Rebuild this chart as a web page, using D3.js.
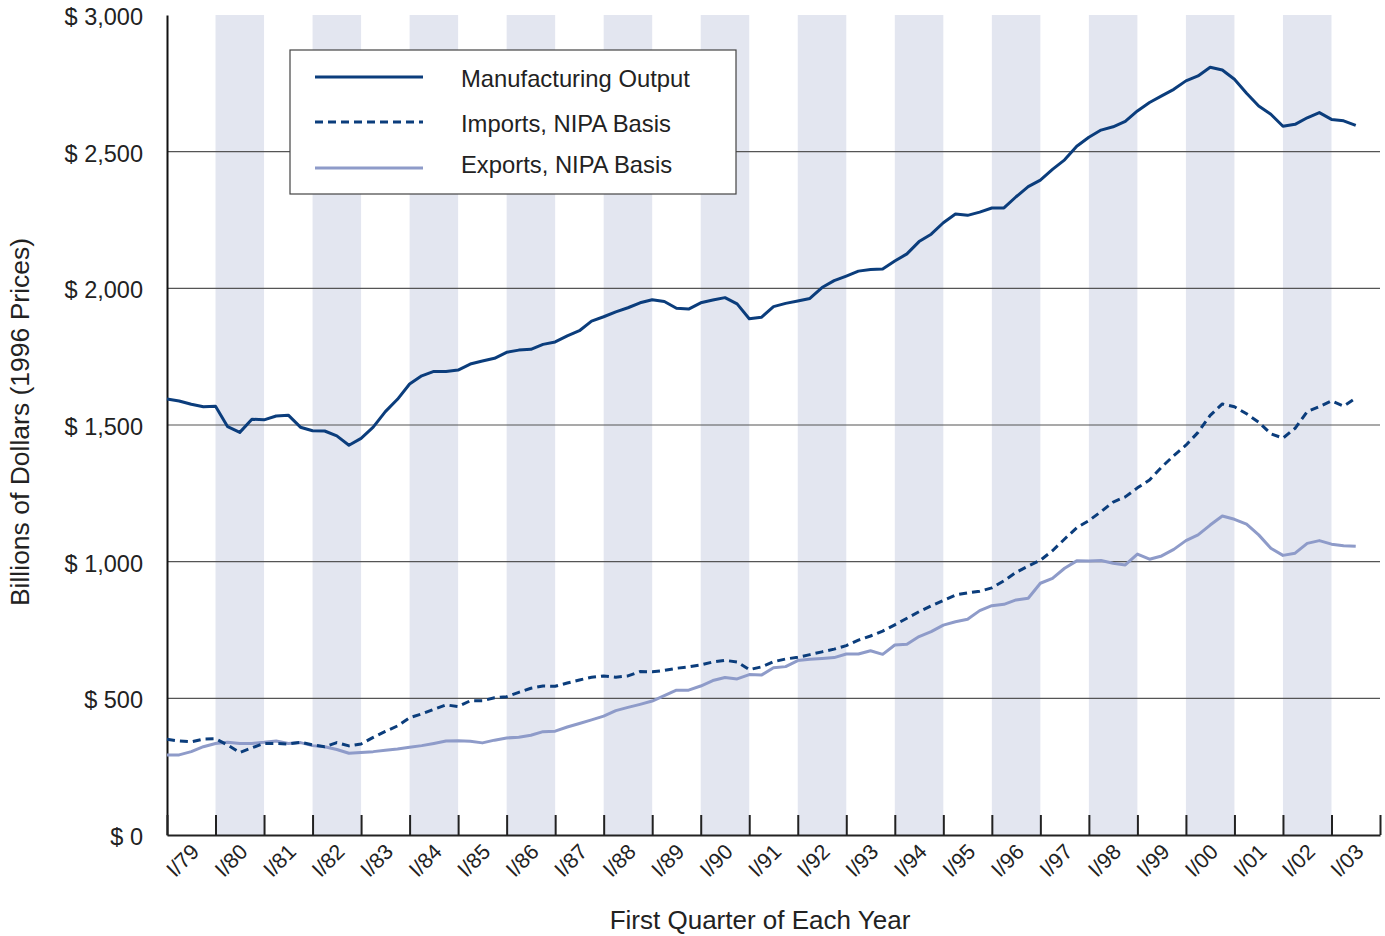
<!DOCTYPE html>
<html><head><meta charset="utf-8">
<script src="https://cdn.jsdelivr.net/npm/d3@7"></script>
<style>
body{margin:0;background:#fff;}
svg{display:block;}
text{font-family:"Liberation Sans",Arial,Helvetica,sans-serif;fill:#222;}
</style>
</head><body>
<svg id="chart" width="1385" height="936"></svg>
<script>
// ---- data (quarterly, starting 1979 Q1, billions of 1996 dollars) ----
const firstYear = 1979;
const yearLabels = ["I/79","I/80","I/81","I/82","I/83","I/84","I/85","I/86","I/87","I/88","I/89","I/90","I/91","I/92","I/93","I/94","I/95","I/96","I/97","I/98","I/99","I/00","I/01","I/02","I/03"];
const yTickValues = [0, 500, 1000, 1500, 2000, 2500, 3000];
const seriesNames = ["Manufacturing Output", "Imports, NIPA Basis", "Exports, NIPA Basis"];

const manufacturing = [
  1595,1588,1576,1567, 1569,1494,1473,1521, 1519,1533,1536,1492, 1479,1478,1460,1426,
  1451,1492,1549,1594, 1650,1680,1696,1696, 1701,1723,1734,1744, 1766,1774,1777,1795,
  1804,1826,1845,1880, 1896,1914,1929,1947, 1958,1952,1927,1924, 1947,1957,1966,1943,
  1889,1894,1933,1945, 1954,1963,2003,2028, 2045,2063,2069,2071, 2100,2126,2171,2198,
  2240,2272,2267,2279, 2294,2294,2335,2372, 2396,2435,2470,2520, 2553,2579,2591,2611,
  2649,2680,2704,2728, 2759,2777,2809,2799, 2765,2714,2667,2637, 2593,2600,2624,2643,
  2618,2613,2596
];
const imports = [
  350,344,341,351, 352,329,302,319, 335,335,333,339, 330,323,338,326,
  333,357,379,399, 429,443,460,476, 470,491,491,502, 506,522,537,545,
  544,556,567,577, 582,577,582,598, 597,602,610,615, 622,633,639,633,
  605,615,634,644, 650,660,670,680, 693,713,728,746, 769,793,817,838,
  858,878,886,892, 904,930,961,984, 1005,1040,1083,1124, 1150,1183,1218,1237,
  1270,1299,1346,1388, 1426,1473,1535,1577, 1567,1541,1510,1468, 1452,1488,1549,1567,
  1588,1569,1598
];
const exports = [
  293,293,305,323, 335,339,335,335, 339,344,335,338, 327,323,313,299,
  302,305,310,315, 321,327,335,344, 345,343,337,347, 355,358,365,378,
  380,395,408,421, 435,455,467,478, 490,510,530,530, 545,565,576,571,
  587,585,612,616, 638,643,646,649, 662,662,674,661, 695,698,726,744,
  768,780,789,821, 839,844,860,866, 921,939,976,1003, 1002,1004,994,988,
  1028,1009,1021,1045, 1077,1098,1134,1167, 1155,1137,1098,1049, 1023,1031,1067,1077,
  1064,1058,1056
];

// ---- chart ----
const svg = d3.select("#chart");
const darkBlue = "#0b3d7c", lightBlue = "#8e9bc9", shade = "#e3e6f0";
const fontFam = "'Liberation Sans', Arial, sans-serif";

const x = d3.scaleLinear().domain([firstYear, firstYear + yearLabels.length]).range([167, 1380]);
const y = d3.scaleLinear().domain([0, 3000]).range([835, 15]);

const years = d3.range(firstYear, firstYear + yearLabels.length);

// alternate-year shading
svg.append("g").selectAll("rect")
  .data(years.filter(yr => (yr - firstYear) % 2 === 1))
  .join("rect")
  .attr("x", d => x(d)).attr("width", d => x(d + 1) - x(d))
  .attr("y", y(3000)).attr("height", y(0) - y(3000))
  .attr("fill", shade);

// horizontal grid
svg.append("g").selectAll("line")
  .data(yTickValues.filter(v => v > 0 && v < 3000))
  .join("line")
  .attr("x1", x.range()[0]).attr("x2", x.range()[1])
  .attr("y1", d => y(d)).attr("y2", d => y(d))
  .attr("stroke", "#555").attr("stroke-width", 1.2);

// y axis
const yAxis = svg.append("g").attr("transform", `translate(${x.range()[0]},0)`)
  .call(d3.axisLeft(y).tickValues(yTickValues).tickSize(0).tickSizeOuter(0).tickPadding(24)
    .tickFormat(d => "$ " + d3.format(",")(d)));
yAxis.select(".domain").attr("stroke", "#111").attr("stroke-width", 2);
yAxis.selectAll("text").attr("font-size", 23.5).attr("fill", "#222")
  .attr("font-family", fontFam).attr("dy", "0.4em");

// x axis
const xAxis = svg.append("g").attr("transform", `translate(0,${y(0)})`)
  .call(d3.axisBottom(x).tickValues(d3.range(firstYear, firstYear + yearLabels.length + 1))
    .tickSize(-20).tickSizeOuter(0)
    .tickFormat(d => yearLabels[d - firstYear] || ""));
xAxis.select(".domain").attr("stroke", "#222").attr("stroke-width", 2);
xAxis.selectAll(".tick line").attr("stroke", "#222").attr("stroke-width", 2);
xAxis.selectAll("text")
  .attr("font-size", 21.5).attr("fill", "#222")
  .attr("font-family", fontFam)
  .attr("text-anchor", "end").attr("x", 0).attr("y", 0).attr("dy", 0)
  .attr("transform", "translate(33,18) rotate(-45)");

// series lines
const line = d3.line().x((d, i) => x(firstYear + i / 4)).y(d => y(d));
const series = [
  {name: seriesNames[0], values: manufacturing, color: darkBlue, dash: null, width: 3},
  {name: seriesNames[1], values: imports, color: darkBlue, dash: "8,5", width: 3},
  {name: seriesNames[2], values: exports, color: lightBlue, dash: null, width: 3}
];
svg.append("g").selectAll("path")
  .data([series[2], series[1], series[0]])
  .join("path")
  .attr("d", d => line(d.values))
  .attr("fill", "none")
  .attr("stroke", d => d.color)
  .attr("stroke-width", d => d.width)
  .attr("stroke-dasharray", d => d.dash)
  .attr("stroke-linejoin", "round");

// legend
const lg = svg.append("g").attr("transform", "translate(290,50)");
lg.append("rect").attr("width", 446).attr("height", 144)
  .attr("fill", "#fff").attr("stroke", "#444").attr("stroke-width", 1.2);
const rowsY = [27, 72, 118];
const textY = [37, 82, 123];
series.forEach((s, i) => {
  lg.append("line").attr("x1", 25).attr("x2", 133).attr("y1", rowsY[i]).attr("y2", rowsY[i])
    .attr("stroke", s.color).attr("stroke-width", 3).attr("stroke-dasharray", s.dash);
  lg.append("text").attr("x", 171).attr("y", textY[i]).attr("font-size", 23.8).text(s.name);
});

// axis titles
svg.append("text").attr("transform", "translate(29,422) rotate(-90)")
  .attr("text-anchor", "middle").attr("font-size", 26.5)
  .text("Billions of Dollars (1996 Prices)");
svg.append("text").attr("x", 760).attr("y", 929)
  .attr("text-anchor", "middle").attr("font-size", 26)
  .text("First Quarter of Each Year");
</script>
</body></html>
